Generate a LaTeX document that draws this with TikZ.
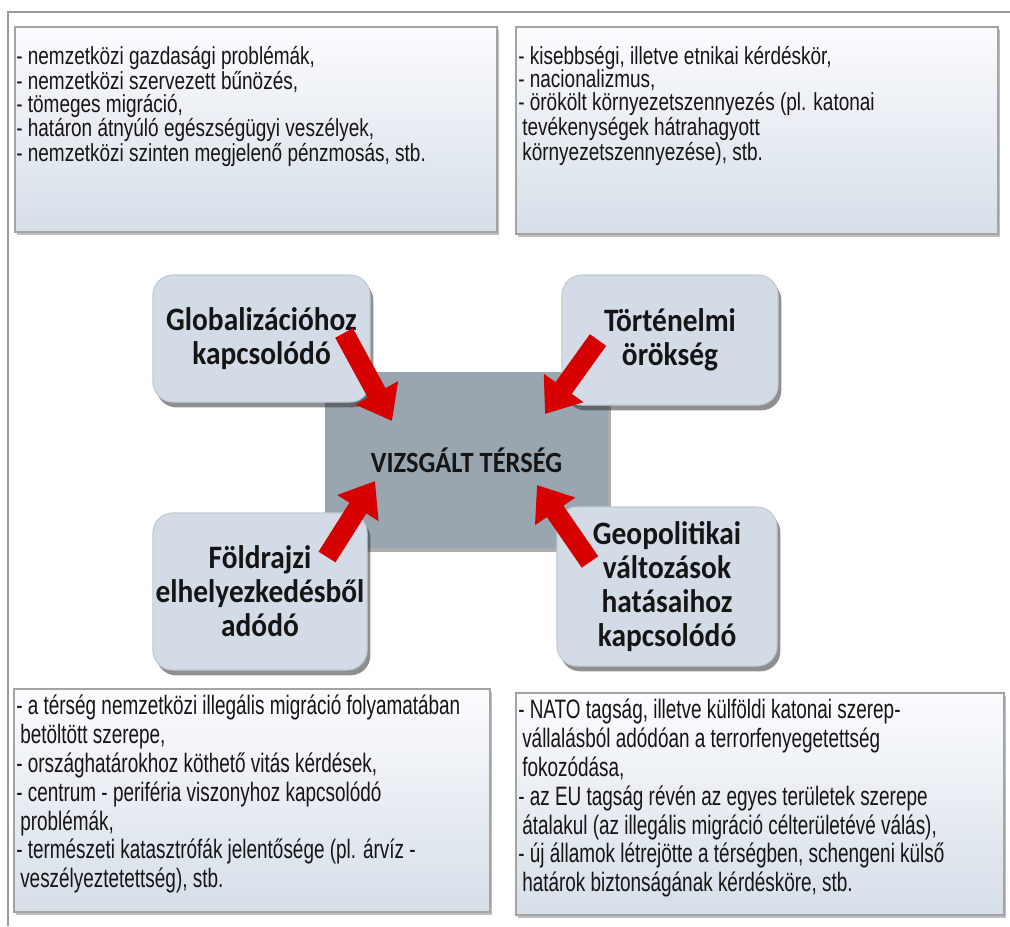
\documentclass[tikz,border=0pt]{standalone}
\usepackage{fontspec}
\setmainfont{Liberation Sans}
\newfontfamily\narrowfont[FakeStretch=0.77]{Liberation Sans}
\newfontfamily\narrowtall[FakeStretch=0.71]{Liberation Sans}
\newfontfamily\labelfont[FakeStretch=0.9]{Carlito}
\usetikzlibrary{shadows,arrows.meta}
\definecolor{framegray}{HTML}{9A9A9A}
\definecolor{boxtop}{HTML}{FBFCFE}
\definecolor{boxbot}{HTML}{D6DEE8}
\definecolor{boxline}{HTML}{A4A4A4}
\definecolor{roundfill}{HTML}{D3DBE6}
\definecolor{roundline}{HTML}{C2CAD4}
\definecolor{centerfill}{HTML}{99A6B0}
\definecolor{arrowred}{HTML}{D60000}
\definecolor{textdark}{HTML}{151515}
\tikzset{
  listbox/.style={draw=boxline, line width=0.9pt, top color=boxtop, bottom color=boxbot,
    drop shadow={shadow xshift=1.5pt, shadow yshift=-2pt, opacity=0.25, fill=black}},
  listtext/.style={anchor=north west, inner sep=0pt, align=left, text=textdark,
    font=\narrowfont\fontsize{18.5pt}{17.4pt}\selectfont},
  listtall/.style={anchor=north west, inner sep=0pt, align=left, text=textdark,
    font=\narrowtall\fontsize{20pt}{21.6pt}\selectfont},
  factor/.style={draw=roundline, line width=0.8pt, fill=roundfill, rounded corners=15pt,
    align=center, text=textdark, inner sep=2pt,
    font=\labelfont\bfseries\fontsize{24.5pt}{25.5pt}\selectfont,
    drop shadow={shadow xshift=2.5pt, shadow yshift=-4pt, opacity=0.55, fill=black!80}},
  region/.style={fill=centerfill, draw=none, text=textdark,
    font=\labelfont\bfseries\fontsize{22pt}{24pt}\selectfont,
    drop shadow={shadow xshift=2pt, shadow yshift=-3pt, opacity=0.4, fill=black!80}},
  influence/.style={draw=arrowred, line width=15pt,
    -{Triangle[length=24pt, width=35pt]}},
}
\begin{document}
\begin{tikzpicture}[x=0.75pt, y=-0.75pt]
\useasboundingbox (0,0) rectangle (1010,926);
\fill[white] (0,0) rectangle (1010,926);
% outer frame
\draw[framegray, line width=1.6pt] (8,926) -- (8,12) -- (1010,12);

% list boxes
\node[listbox, minimum width=361.5pt, minimum height=153.75pt] (tl) at (256,129.5) {};
\node[listbox, minimum width=361.5pt, minimum height=155.25pt] (tr) at (757,130.5) {};
\node[listbox, minimum width=357pt, minimum height=167.25pt] (bl) at (252,800.5) {};
\node[listbox, minimum width=366pt, minimum height=166.5pt] (br) at (760,804) {};

\node[listtext] (tltext) at (16,46) {- nemzetközi gazdasági problémák,\\
- nemzetközi szervezett bűnözés,\\
- tömeges migráció,\\
- határon átnyúló egészségügyi veszélyek,\\
- nemzetközi szinten megjelenő pénzmosás, stb.};

\node[listtext] (trtext) at (518,46) {- kisebbségi, illetve etnikai kérdéskör,\\
- nacionalizmus,\\
- örökölt környezetszennyezés (pl. katonai\\
\hspace*{3pt}tevékenységek hátrahagyott\\
\hspace*{3pt}környezetszennyezése), stb.};

\node[listtall] (bltext) at (16,695) {- a térség nemzetközi illegális migráció folyamatában\\
\hspace*{3pt}betöltött szerepe,\\
- országhatárokhoz köthető vitás kérdések,\\
- centrum - periféria viszonyhoz kapcsolódó\\
\hspace*{3pt}problémák,\\
- természeti katasztrófák jelentősége (pl. árvíz -\\
\hspace*{3pt}veszélyeztetettség), stb.};

\node[listtall] (brtext) at (518,699) {- NATO tagság, illetve külföldi katonai szerep-\\
\hspace*{3pt}vállalásból adódóan a terrorfenyegetettség\\
\hspace*{3pt}fokozódása,\\
- az EU tagság révén az egyes területek szerepe\\
\hspace*{3pt}átalakul (az illegális migráció célterületévé válás),\\
- új államok létrejötte a térségben, schengeni külső\\
\hspace*{3pt}határok biztonságának kérdésköre, stb.};

% central region
\node[region, minimum width=212.25pt, minimum height=132pt] (center) at (466.5,460) {VIZSGÁLT TÉRSÉG};

% factor boxes
\node[factor, minimum width=162.75pt, minimum height=95.25pt] (glob) at (261.5,338.5) {Globalizációhoz\\kapcsolódó};
\node[factor, minimum width=162pt, minimum height=97.5pt] (tort) at (670,340) {Történelmi\\örökség};
\node[factor, minimum width=160.5pt, minimum height=117.75pt] (fold) at (260,591.5) {Földrajzi\\elhelyezkedésből\\adódó};
\node[factor, minimum width=165pt, minimum height=119.25pt] (geo) at (667,586.5) {Geopolitikai\\változások\\hatásaihoz\\kapcsolódó};

% arrows
\coordinate (a1s) at (344,333); \coordinate (a1e) at (392,421);
\coordinate (a2s) at (598,340); \coordinate (a2e) at (545,414);
\coordinate (a3s) at (327,557); \coordinate (a3e) at (375,481);
\coordinate (a4s) at (590,562); \coordinate (a4e) at (537,485);
\draw[influence] (a1s) -- (a1e);
\draw[influence] (a2s) -- (a2e);
\draw[influence] (a3s) -- (a3e);
\draw[influence] (a4s) -- (a4e);
\end{tikzpicture}
\end{document}
